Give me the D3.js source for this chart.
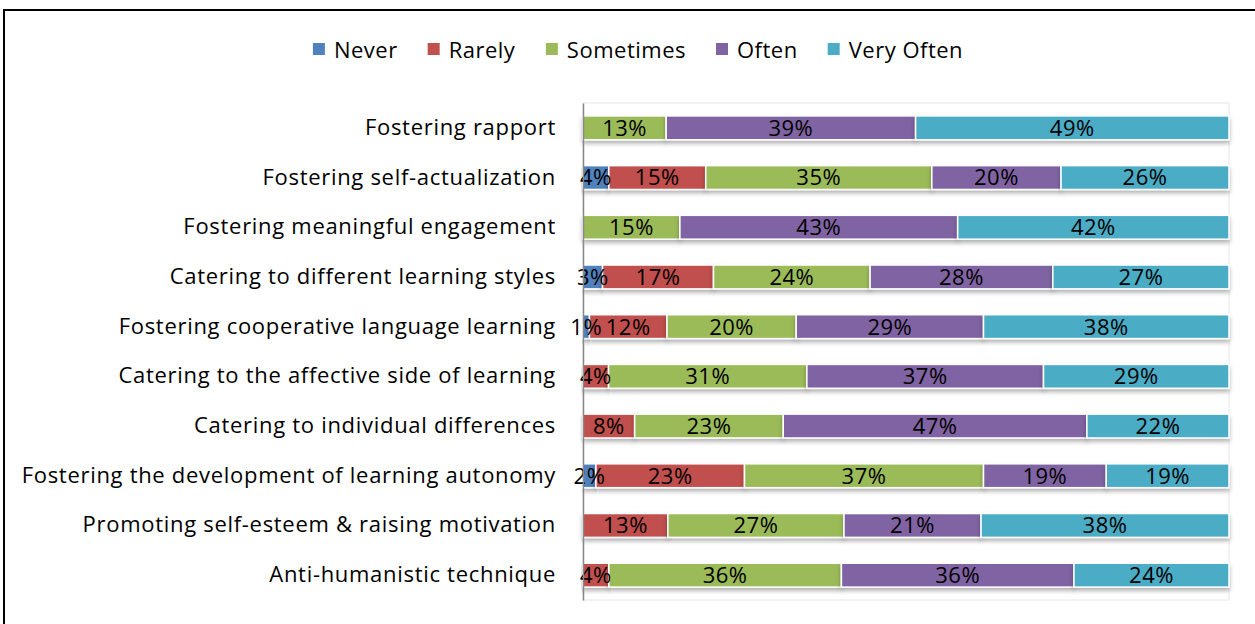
<!DOCTYPE html>
<html>
<head>
<meta charset="utf-8">
<script src="https://cdn.jsdelivr.net/npm/d3@7"></script>
<style>
  body { margin: 0; background: #fff; }
  svg { display: block; font-family: "Open Sans", sans-serif; }
</style>
</head>
<body>
<svg width="1255" height="624"></svg>
<script>
// categories, top to bottom
var categories = [
  "Fostering rapport",
  "Fostering self-actualization",
  "Fostering meaningful engagement",
  "Catering to different learning styles",
  "Fostering cooperative language learning",
  "Catering to the affective side of learning",
  "Catering to individual differences",
  "Fostering the development of learning autonomy",
  "Promoting self-esteem & raising motivation",
  "Anti-humanistic technique"
];
var seriesNames = ["Never", "Rarely", "Sometimes", "Often", "Very Often"];
var colors = ["#4F81BD", "#C0504D", "#9BBB59", "#8064A2", "#4BACC6"];

// percent per series, same order as categories
var never     = [0, 4, 0, 3, 1, 0, 0, 2, 0, 0];
var rarely    = [0, 15, 0, 17, 12, 4, 8, 23, 13, 4];
var sometimes = [13, 35, 15, 24, 20, 31, 23, 37, 27, 36];
var often     = [39, 20, 43, 28, 29, 37, 47, 19, 21, 36];
var veryOften = [49, 26, 42, 27, 38, 29, 22, 19, 38, 24];

var seriesVals = [never, rarely, sometimes, often, veryOften];

var svg = d3.select("svg"),
    plot = {left: 583, right: 1229, top: 103, bottom: 600};

// frame
svg.append("rect")
    .attr("x", 4).attr("y", 10)
    .attr("width", 1260).attr("height", 630)
    .attr("fill", "none")
    .attr("stroke", "#000")
    .attr("stroke-width", 2);

var defs = svg.append("defs");
var f = defs.append("filter").attr("id", "shadow")
    .attr("x", "-5%").attr("y", "-30%").attr("width", "110%").attr("height", "180%");
f.append("feDropShadow")
    .attr("dx", 0).attr("dy", 3).attr("stdDeviation", 2)
    .attr("flood-color", "#000").attr("flood-opacity", 0.3);

// stacked table, normalised per row (100% stacked)
var table = categories.map(function(c, i) {
    var row = {cat: c};
    var total = 0;
    seriesNames.forEach(function(s, j) { row[s] = seriesVals[j][i]; total += seriesVals[j][i]; });
    row.total = total;
    return row;
});

var stack = d3.stack().keys(seriesNames)
    .value(function(d, key) { return d[key] / d.total; });
var layers = stack(table);

var x = d3.scaleLinear().domain([0, 1]).range([plot.left, plot.right]);
var y = d3.scaleBand().domain(categories).range([plot.top, plot.bottom]).paddingInner(0.52).paddingOuter(0.26);

// plot area
svg.append("rect")
    .attr("x", plot.left).attr("y", plot.top)
    .attr("width", plot.right - plot.left).attr("height", plot.bottom - plot.top)
    .attr("fill", "none").attr("stroke", "#e6e6e6");

var layer = svg.selectAll(".layer")
    .data(layers)
    .enter().append("g")
    .attr("class", "layer")
    .attr("fill", function(d, i) { return colors[i]; });

layer.selectAll("rect")
    .data(function(d) { return d.filter(function(p) { return p.data[d.key] > 0; }); })
    .enter().append("rect")
    .attr("x", function(d) { return x(d[0]); })
    .attr("y", function(d) { return y(d.data.cat); })
    .attr("width", function(d) { return x(d[1]) - x(d[0]); })
    .attr("height", y.bandwidth())
    .attr("stroke", "#fff")
    .attr("stroke-width", 1.5)
    .attr("filter", "url(#shadow)");

// value labels
layers.forEach(function(l) {
    svg.append("g").selectAll("text")
        .data(l.filter(function(p) { return p.data[l.key] > 0; }))
        .enter().append("text")
        .attr("x", function(d) { return (x(d[0]) + x(d[1])) / 2; })
        .attr("y", function(d) { return y(d.data.cat) + y.bandwidth() / 2; })
        .attr("dy", "0.36em")
        .attr("text-anchor", "middle")
        .attr("font-size", "22px")
        .attr("letter-spacing", "0.5px")
        .attr("fill", "#000")
        .text(function(d) { return d.data[l.key] + "%"; });
});

// y axis
var yAxis = svg.append("g")
    .attr("transform", "translate(" + plot.left + ",0)")
    .call(d3.axisLeft(y).tickSize(0).tickPadding(27));
yAxis.select(".domain").attr("stroke", "#888").attr("stroke-width", 1.5);
yAxis.selectAll("text")
    .attr("font-size", "22px")
    .attr("letter-spacing", "0.7px")
    .attr("font-family", "'Open Sans', sans-serif")
    .attr("fill", "#000");

// legend
var legend = svg.append("g");
var lx = 0;
var items = legend.selectAll("g")
    .data(seriesNames)
    .enter().append("g");
items.append("rect")
    .attr("width", 12).attr("height", 12)
    .attr("y", -7)
    .attr("fill", function(d, i) { return colors[i]; });
items.append("text")
    .attr("x", 21)
    .attr("dy", "0.36em")
    .attr("font-size", "22px")
    .attr("letter-spacing", "0.5px")
    .text(function(d) { return d; });
items.each(function() {
    var w = this.getBBox().width;
    d3.select(this).attr("transform", "translate(" + lx + ",0)");
    lx += w + 30;
});
var totalW = lx - 30;
legend.attr("transform", "translate(" + (638 - totalW / 2) + ",50)");
</script>
</body>
</html>
